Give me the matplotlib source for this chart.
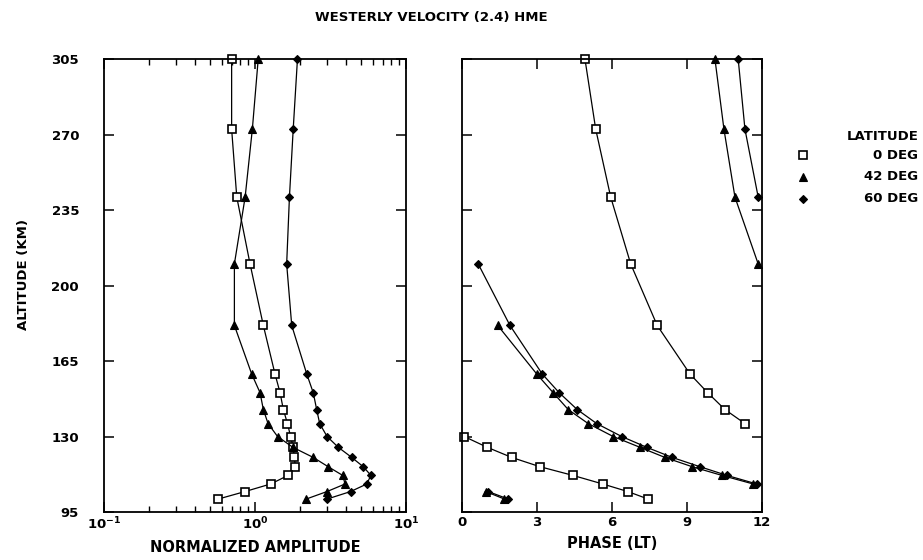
import numpy as np
import matplotlib
matplotlib.use("Agg")
import matplotlib.pyplot as plt
from matplotlib.lines import Line2D
from matplotlib.ticker import LogLocator, FixedLocator, NullFormatter

plt.rcParams['font.family'] = ['DejaVu Sans']
plt.rcParams['font.weight'] = 'bold'
plt.rcParams['axes.labelweight'] = 'bold'
plt.rcParams['mathtext.default'] = 'regular'

# Model levels (km), top to bottom
altitude = [305, 272.5, 241, 210, 181.5, 159, 150.3, 142.5, 136, 130,
            125, 120.3, 116, 112, 108, 104.5, 101]

# Normalized amplitude of the westerly (2,4) mode
amp_0 = [0.70, 0.70, 0.757, 0.927, 1.135, 1.356, 1.465, 1.54, 1.64, 1.72,
         1.79, 1.82, 1.85, 1.66, 1.27, 0.86, 0.57]
amp_42 = [1.05, 0.96, 0.86, 0.73, 0.73, 0.95, 1.08, 1.135, 1.22, 1.41,
          1.78, 2.43, 3.05, 3.8, 3.95, 3.0, 2.18]
amp_60 = [1.91, 1.79, 1.69, 1.62, 1.75, 2.2, 2.43, 2.56, 2.68, 3.0,
          3.56, 4.37, 5.21, 5.85, 5.5, 4.3, 3.0]

# Phase (local time, hours, modulo 12)
phase_0 = [4.92, 5.35, 5.95, 6.75, 7.81, 9.12, 9.83, 10.52, 11.32, 0.09,
           1.01, 1.99, 3.12, 4.43, 5.63, 6.63, 7.45]
phase_42 = [10.12, 10.48, 10.92, 11.85, 1.43, 2.99, 3.65, 4.25, 5.05, 6.05,
            7.12, 8.12, 9.21, 10.39, 11.65, 0.95, 1.7]
phase_60 = [11.05, 11.32, 11.85, 0.65, 1.92, 3.21, 3.89, 4.61, 5.39, 6.39,
            7.39, 8.41, 9.52, 10.59, 11.79, 1.05, 1.85]

latitudes = ["0 DEG", "42 DEG", "60 DEG"]
alt_ticks = [95, 130, 165, 200, 235, 270, 305]
phase_ticks = [0, 3, 6, 9, 12]

styles = [
    dict(marker='s', ms=5.2, mfc='white', mec='black', mew=1.2),
    dict(marker='^', ms=5.2, mfc='black', mec='black', mew=0.8),
    dict(marker='D', ms=4.4, mfc='black', mec='black', mew=0.8),
]

fig = plt.figure(figsize=(9.23, 5.6), dpi=100)
ax1 = fig.add_axes([0.1127, 0.0857, 0.3272, 0.8089])
ax2 = fig.add_axes([0.5005, 0.0857, 0.3250, 0.8089])

lw = 0.9
# amplitude profiles
for amp, st in zip([amp_0, amp_42, amp_60], styles):
    ax1.plot(amp, altitude, color='black', lw=lw, clip_on=False, **st)

# phase profiles, broken where the phase wraps past 12 LT
def wrapped_segments(ph):
    segs, cur = [], [0]
    for i in range(1, len(ph)):
        if abs(ph[i] - ph[i - 1]) > 6:
            segs.append(cur)
            cur = []
        cur.append(i)
    segs.append(cur)
    return segs

order = [(phase_0, styles[0]), (phase_60, styles[2]), (phase_42, styles[1])]
for ph, st in order:
    for seg in wrapped_segments(ph):
        ax2.plot([ph[i] for i in seg], [altitude[i] for i in seg],
                 color='black', lw=lw, clip_on=False, **st)

# left panel axes
ax1.set_xscale('log')
ax1.set_xlim(0.1, 10)
ax1.set_ylim(95, 305)
ax1.xaxis.set_minor_locator(LogLocator(base=10, subs=np.arange(2, 10), numticks=20))
ax1.xaxis.set_minor_formatter(NullFormatter())
ax1.set_xticks([0.1, 1, 10])
ax1.set_xticklabels([r'$10^{-1}$', r'$10^{0}$', r'$10^{1}$'])
ax1.yaxis.set_major_locator(FixedLocator(alt_ticks))
ax1.set_yticklabels([str(t) for t in alt_ticks])

# right panel axes
ax2.set_xlim(0, 12)
ax2.set_ylim(95, 305)
ax2.set_xticks(phase_ticks)
ax2.set_xticklabels([str(t) for t in phase_ticks])
ax2.yaxis.set_major_locator(FixedLocator(alt_ticks))
ax2.set_yticklabels([])

for ax in (ax1, ax2):
    for sp in ax.spines.values():
        sp.set_linewidth(1.3)
    ax.tick_params(axis='both', which='major', direction='in', length=7, width=1.1,
                   top=True, right=True, labelsize=9.5)
    ax.tick_params(axis='both', which='minor', direction='in', length=4, width=1.0,
                   top=True, right=True)
    ax.tick_params(axis='x', which='major', pad=3)
ax1.tick_params(axis='y', which='major', pad=18)

ax1.set_xlabel('NORMALIZED AMPLITUDE', fontsize=10.5, labelpad=5)
ax2.set_xlabel('PHASE (LT)', fontsize=10.5, labelpad=5)
fig.text(0.025, 0.51, 'ALTITUDE (KM)', rotation=90, ha='center', va='center',
         fontsize=9.5)

fig.text(0.467, 0.968, 'WESTERLY VELOCITY (2.4) HME', ha='center', va='center',
         fontsize=9.5)

# latitude key
fig.text(0.995, 0.757, 'LATITUDE', ha='right', va='center', fontsize=9.5)
key_y = [0.723, 0.684, 0.645]
for lab, st, yk in zip(latitudes, styles, key_y):
    fig.add_artist(Line2D([0.870], [yk], transform=fig.transFigure, ls='none', **st))
    fig.text(0.995, yk, lab, ha='right', va='center', fontsize=9.5)

fig.savefig('out.png', dpi=100)
